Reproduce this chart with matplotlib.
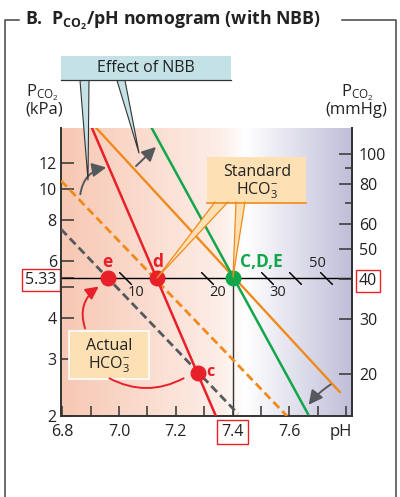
import numpy as np
import matplotlib.pyplot as plt
from matplotlib.colors import LinearSegmentedColormap
from matplotlib.patches import Rectangle, Polygon, FancyArrowPatch

plt.rcParams['font.family'] = ['Open Sans', 'DejaVu Sans']
plt.rcParams['mathtext.fontset'] = 'custom'
plt.rcParams['mathtext.rm'] = 'Open Sans'
plt.rcParams['mathtext.it'] = 'Open Sans:italic'
plt.rcParams['mathtext.bf'] = 'Open Sans:bold'

# ---- data ----
ph_lim = (6.796, 7.82)
kpa_lim = (2.0, 15.4)
mmhg_lim = (14.72, 120.8)

ph_ticks = [6.8, 6.9, 7.0, 7.1, 7.2, 7.3, 7.4, 7.5, 7.6, 7.7, 7.8]
ph_labels = ['6.8', '', '7.0', '', '7.2', '', '7.4', '', '7.6', '', '']
kpa_ticks = [2, 3, 4, 5, 5.33, 6, 8, 10, 12]
kpa_labels = ['2', '3', '4', '', '5.33', '6', '8', '10', '12']
mmhg_ticks = [20, 30, 40, 50, 60, 80, 100]
mmhg_minor = [70, 90]

# buffer lines (pH, kPa)
green_ph, green_kpa = [7.115, 7.665], [15.4, 2.03]
red_ph, red_kpa = [6.905, 7.341], [15.4, 2.0]
orange_ph, orange_kpa = [6.92, 7.777], [15.4, 2.37]
orange_dash_ph, orange_dash_kpa = [6.796, 7.591], [10.6, 2.0]
gray_dash_ph, gray_dash_kpa = [6.796, 7.419], [7.52, 2.03]

# points
normal_ph, normal_kpa = 7.4, 5.33
pts_name = ['e', 'd', 'c']
pts_ph = [6.962, 7.133, 7.278]
pts_kpa = [5.33, 5.33, 2.71]

# HCO3- scale on the 40 mmHg line
hco3_vals = [10, 20, 30, 40, 50]
hco3_ph = [7.02, 7.31, 7.52, 7.62, 7.73]
hco3_shown = ['10', '20', '30', '', '50']

RED = '#e8202a'
ORANGE = '#f08a1c'
GREEN = '#12a64b'
DGRAY = '#55595d'
AX = '#333333'

W, H = 400, 497
fig = plt.figure(figsize=(W / 100, H / 100), dpi=100)


def rect(l, t, r, b):
    return [l / W, 1 - b / H, (r - l) / W, (b - t) / H]


ax = fig.add_axes(rect(61, 128, 352, 416))
ax.set_yscale('log')
ax.set_xlim(*ph_lim)
ax.set_ylim(*kpa_lim)

# background gradient
cmap = LinearSegmentedColormap.from_list(
    'bg', [(0, '#f7c8b3'), (0.55, '#fdeee8'), (0.63, '#ffffff'), (1, '#c0bed9')])
grad = np.linspace(0, 1, 256).reshape(1, -1)
ax.imshow(grad, extent=[ph_lim[0], ph_lim[1], kpa_lim[0], kpa_lim[1]],
          aspect='auto', cmap=cmap, zorder=0)

# reference lines
ax.axhline(normal_kpa, color='k', lw=1.0, zorder=2)
ax.plot([normal_ph, normal_ph], [kpa_lim[0], normal_kpa], color=AX, lw=1.0, zorder=2)
ax.plot(hco3_ph, [normal_kpa] * len(hco3_ph), ls='none', marker=(2, 2, 45),
        ms=12.5, mew=0.75, mec='k', zorder=2)
for v, p, s in zip(hco3_vals, hco3_ph, hco3_shown):
    if not s:
        continue
    off = (-9, 14) if v == 50 else (11, -15)
    ax.annotate(s, (p, normal_kpa), xytext=off, textcoords='offset pixels',
                ha='center', va='center', fontsize=10.5, color='#222')

# buffer lines
ax.plot(gray_dash_ph, gray_dash_kpa, color=DGRAY, lw=2.0, dashes=(3, 1.6), zorder=3)
ax.plot(orange_dash_ph, orange_dash_kpa, color=ORANGE, lw=2.0, dashes=(3, 1.6), zorder=3)
ax.plot(orange_ph, orange_kpa, color=ORANGE, lw=1.7, zorder=3)
ax.plot(red_ph, red_kpa, color=RED, lw=1.8, zorder=3)
ax.plot(green_ph, green_kpa, color=GREEN, lw=1.8, zorder=3)

ax.plot(pts_ph, pts_kpa, 'o', color=RED, ms=10.5, zorder=4)
ax.plot([normal_ph], [normal_kpa], 'o', color=GREEN, ms=10.5, zorder=4)

# axes styling
ax.spines['top'].set_visible(False)
for s in ['left', 'bottom', 'right']:
    ax.spines[s].set_color(AX)
    ax.spines[s].set_linewidth(1.4)
ax.set_xticks(ph_ticks, ph_labels)
ax.set_yticks(kpa_ticks, kpa_labels)
ax.yaxis.set_minor_locator(plt.NullLocator())
ax.tick_params(axis='x', direction='in', length=7, width=1.1, color=AX,
               labelsize=11.5, pad=6, labelcolor='#222')
ax.tick_params(axis='y', direction='in', length=9.5, width=1.1, color=AX,
               labelsize=11.5, pad=3, labelcolor='#222')
for t in ax.get_xticklabels():
    if t.get_text() == '7.4':
        t.set_bbox(dict(boxstyle='square,pad=0.25', fc='none', ec=RED, lw=1))
for t in ax.get_yticklabels():
    if t.get_text() == '5.33':
        t.set_bbox(dict(boxstyle='square,pad=0.2', fc='none', ec=RED, lw=1))

ax2 = ax.twinx()
ax2.set_yscale('log')
ax2.set_ylim(*mmhg_lim)
ax2.set_yticks(mmhg_ticks, [str(v) for v in mmhg_ticks])
ax2.set_yticks(mmhg_minor, minor=True)
ax2.yaxis.set_minor_formatter(plt.NullFormatter())
for s in ['top', 'left', 'bottom']:
    ax2.spines[s].set_visible(False)
ax2.spines['right'].set_color(AX)
ax2.spines['right'].set_linewidth(1.4)
ax2.tick_params(axis='y', which='major', direction='in', length=9.5, width=1.1,
                color=AX, labelsize=11.5, pad=5, labelcolor='#222')
ax2.tick_params(axis='y', which='minor', direction='in', length=5, width=1.1, color=AX)
for t in ax2.get_yticklabels():
    if t.get_text() == '40':
        t.set_bbox(dict(boxstyle='square,pad=0.2', fc='none', ec=RED, lw=1))

# ---- overlay in pixel coordinates ----
ov = fig.add_axes([0, 0, 1, 1], zorder=5)
ov.set_xlim(0, W)
ov.set_ylim(H, 0)
ov.axis('off')
ov.patch.set_alpha(0)

# frame and title
fr = dict(color='#444', lw=1.1)
ov.plot([19, 5, 5], [20, 20, H], **fr)
ov.plot([342, 396, 396], [20, 20, H], **fr)
ov.text(25, 20, r'B.  P$_{\mathbf{CO_2}}$/pH nomogram (with NBB)', fontsize=12.8,
        fontweight='bold', ha='left', va='center', color='#222')

# axis titles
ov.text(42, 93, r'P$_{\mathrm{CO_2}}$', fontsize=12, ha='center', va='center', color='#222')
ov.text(44, 110, '(kPa)', fontsize=12, ha='center', va='center', color='#222')
ov.text(357, 93, r'P$_{\mathrm{CO_2}}$', fontsize=12, ha='center', va='center', color='#222')
ov.text(356, 110, '(mmHg)', fontsize=12, ha='center', va='center', color='#222')
ov.text(341, 432, 'pH', fontsize=12, ha='center', va='center', color='#222')

# Effect of NBB callout
BLUE = '#c4e2e6'
ov.add_patch(Rectangle((61, 56), 170, 24, fc=BLUE, ec='none'))
ov.plot([61, 231], [80, 80], color='#333', lw=0.9)
for poly in ([(80, 79.5), (89, 79.5), (88, 180)], [(117, 79.5), (125, 79.5), (139, 153)]):
    ov.add_patch(Polygon(poly, closed=True, fc=BLUE, ec='none'))
    ov.plot([poly[0][0], poly[2][0], poly[1][0]], [poly[0][1] + 1, poly[2][1], poly[1][1] + 1],
            color='#333', lw=0.8)
ov.text(146, 68, 'Effect of NBB', fontsize=11.5, ha='center', va='center', color='#222')

# Standard HCO3- callout
PEACH = '#fde1b4'
for poly in ([(215, 202), (228, 202), (157, 278)], [(236, 202), (245, 202), (233, 277)]):
    ov.add_patch(Polygon(poly, closed=True, fc=PEACH, ec='none'))
    ov.plot([poly[0][0], poly[2][0], poly[1][0]], [poly[0][1], poly[2][1], poly[1][1]],
            color=ORANGE, lw=0.9)
ov.add_patch(Rectangle((207, 157), 99, 46, fc=PEACH, ec='none'))
ov.plot([207, 306], [203, 203], color=ORANGE, lw=1.2)
ov.text(257, 172, 'Standard', fontsize=11.5, ha='center', va='center', color='#222')
ov.text(257, 191, r'HCO$_3^{-}$', fontsize=11.5, ha='center', va='center', color='#222')

# Actual HCO3- callout
ov.add_patch(Rectangle((69, 331), 80, 48, fc=PEACH, ec='white', lw=1.2))
ov.text(109, 346, 'Actual', fontsize=11.5, ha='center', va='center', color='#222')
ov.text(109, 365, r'HCO$_3^{-}$', fontsize=11.5, ha='center', va='center', color='#222')

# point labels
ov.text(107, 262, 'e', fontsize=12.5, fontweight='bold', color=RED, ha='center', va='center')
ov.text(158, 262, 'd', fontsize=12.5, fontweight='bold', color=RED, ha='center', va='center')
ov.text(210, 372, 'c', fontsize=11.5, fontweight='bold', color=RED, ha='center', va='center')
ov.text(261, 262, 'C,D,E', fontsize=12.5, fontweight='bold', color=GREEN, ha='center', va='center')

# arrows
gstyle = '-|>,head_length=0.7,head_width=0.35'
ov.add_patch(FancyArrowPatch((80, 197), (109, 167), connectionstyle='arc3,rad=-0.4',
                             arrowstyle=gstyle, mutation_scale=12, color=DGRAY, lw=1.4))
ov.add_patch(FancyArrowPatch((134, 168), (158, 145), arrowstyle=gstyle,
                             mutation_scale=12, color=DGRAY, lw=1.4))
ov.add_patch(FancyArrowPatch((333, 383), (307, 407), connectionstyle='arc3,rad=0.1',
                             arrowstyle=gstyle, mutation_scale=12, color=DGRAY, lw=1.4))
ov.add_patch(FancyArrowPatch((86, 331), (101, 285), connectionstyle='arc3,rad=-0.4',
                             arrowstyle=gstyle, mutation_scale=11, color=RED, lw=1.4))
ov.add_patch(FancyArrowPatch((107, 377), (186, 377), connectionstyle='arc3,rad=0.28',
                             arrowstyle='-', color=RED, lw=1.4))

fig.savefig('out.png', dpi=100)
